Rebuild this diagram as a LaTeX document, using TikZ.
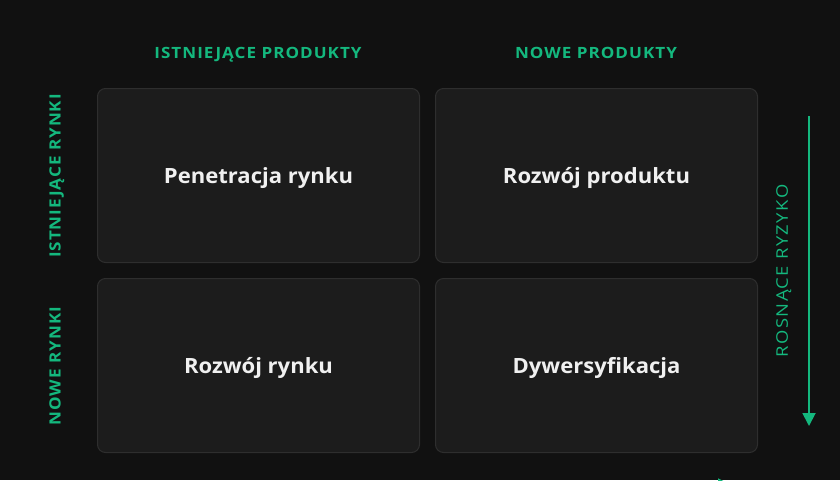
\documentclass[tikz,border=0pt]{standalone}
\usepackage{fontspec}
\setmainfont{Open Sans}
\newfontfamily\capsfont[LetterSpace=6]{Open Sans}
\newfontfamily\riskfont[LetterSpace=8]{Open Sans}
\usetikzlibrary{arrows.meta}
\definecolor{bgc}{HTML}{111111}
\definecolor{boxc}{HTML}{1C1C1C}
\definecolor{boxline}{HTML}{2E2E2E}
\definecolor{accent}{HTML}{14B87E}
\newcommand\widecaps[1]{\scalebox{1.1}[1]{#1}}
\newcommand\widecell[1]{\scalebox{1.05}[1]{#1}}
\newcommand\widerisk[1]{\scalebox{1.15}[1]{#1}}
\begin{document}
\begin{tikzpicture}[x=1pt,y=-1pt,
  cell/.style={draw=boxline,line width=1pt,fill=boxc,rounded corners=8pt,minimum width=322pt,minimum height=174pt,anchor=north west,inner sep=0pt,
    text height=15pt,text depth=0pt,
    font=\fontsize{21}{24}\selectfont\bfseries,text=white!94!black},
  head/.style={font=\capsfont\fontsize{15.5}{18}\selectfont\bfseries,text=accent,inner sep=0pt,text height=11pt,text depth=0pt},
  side/.style={head,rotate=90},
  risk/.style={font=\riskfont\fontsize{16}{18}\selectfont,text=accent,rotate=90,inner sep=0pt,text height=11.5pt,text depth=0pt},
  riskarrow/.style={draw=accent,line width=1.8pt,-{Triangle[length=13pt,width=13pt]}}]
\fill[bgc] (0,0) rectangle (840,480);
\useasboundingbox (0,0) rectangle (840,480);
\node[cell] (pen) at (97,88) {\widecell{Penetracja rynku}};
\node[cell] (prod) at (435,88) {\widecell{Rozwój produktu}};
\node[cell] (rynek) at (97,278) {\widecell{Rozwój rynku}};
\node[cell] (dyw) at (435,278) {\widecell{Dywersyfikacja}};
\node[head] (h1) at (258,53.4) {\widecaps{ISTNIEJĄCE PRODUKTY}};
\node[head] (h2) at (596,53.4) {\widecaps{NOWE PRODUKTY}};
\node[side] (s1) at (55,176) {\widecaps{ISTNIEJĄCE RYNKI}};
\node[side] (s2) at (55,366) {\widecaps{NOWE RYNKI}};
\node[risk] (r1) at (782,271) {\widerisk{ROSNĄCE RYZYKO}};
\coordinate (atop) at (809,116);
\coordinate (abot) at (809,426);
\draw[riskarrow] (atop) -- (abot);
\begin{scope}
\clip (0,0) rectangle (840,480);
\coordinate (hstart) at (600,485);
\coordinate (hend) at (731,485);
\draw[riskarrow] (hstart) -- (hend);
\end{scope}
\end{tikzpicture}
\end{document}
